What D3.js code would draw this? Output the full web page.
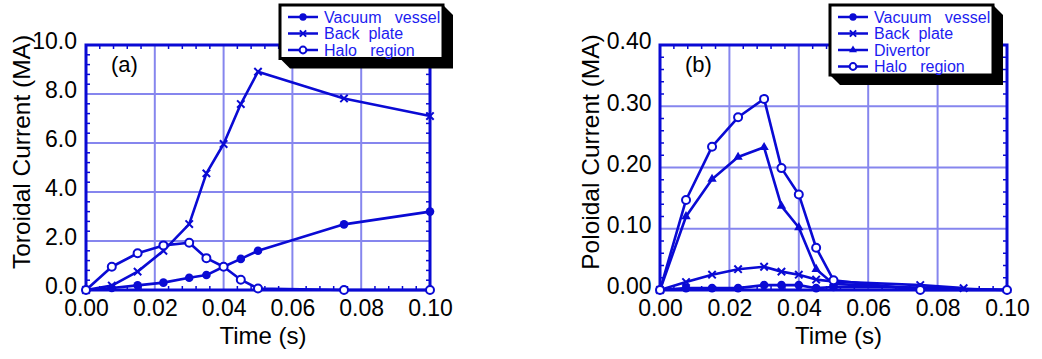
<!DOCTYPE html>
<html>
<head>
<meta charset="utf-8">
<script src="https://cdn.jsdelivr.net/npm/d3@7"></script>
<style>
  body { margin: 0; background: #fff; }
  svg { display: block; font-family: "Liberation Sans", Arial, sans-serif; }
</style>
</head>
<body>
<svg id="chart" width="1042" height="359"></svg>
<script>
// time samples (s)
const timeSteps = [0, 0.0075, 0.015, 0.0225, 0.03, 0.035, 0.04, 0.045, 0.05, 0.075, 0.1];
const backPlateTimeB = [0, 0.0075, 0.015, 0.0225, 0.03, 0.035, 0.04, 0.045, 0.05, 0.075, 0.0875];

// (a) toroidal current (MA)
const vesselA = [0, 0.08, 0.19, 0.3, 0.5, 0.61, 0.95, 1.27, 1.6, 2.68, 3.2];
const backPlateA = [0, 0.18, 0.75, 1.6, 2.69, 4.76, 5.96, 7.59, 8.91, 7.82, 7.1];
const haloA = [0, 0.95, 1.5, 1.82, 1.93, 1.3, 0.95, 0.42, 0.06, 0, 0];

// (b) poloidal current (MA)
const vesselB = [0, 0.003, 0.003, 0.003, 0.008, 0.008, 0.008, 0.003, 0.005, 0.004, 0];
const backPlateB = [0, 0.013, 0.025, 0.034, 0.038, 0.03, 0.025, 0.017, 0.014, 0.008, 0.003];
const divertorB = [0, 0.12, 0.181, 0.217, 0.233, 0.137, 0.102, 0.034, 0.01, 0.003, 0];
const haloB = [0, 0.147, 0.234, 0.282, 0.312, 0.199, 0.156, 0.069, 0.016, 0, 0];

const xTicks = [0, 0.02, 0.04, 0.06, 0.08, 0.1];
const yTicksA = [0, 2, 4, 6, 8, 10];
const yTicksB = [0, 0.1, 0.2, 0.3, 0.4];

const legendNames = {
  vessel: "Vacuum   vessel",
  back: "Back  plate",
  divertor: "Divertor",
  halo: "Halo   region"
};

const BLUE = "#0a0ad4";
const GRID = "#8686ee";
const svg = d3.select("#chart");

function drawMarker(g, kind, x, y, sz) {
  sz = sz || 1;
  if (kind == "vessel") {
    g.append("circle").attr("cx", x).attr("cy", y).attr("r", 4.3 * sz).attr("fill", BLUE);
  } else if (kind == "halo") {
    g.append("circle").attr("cx", x).attr("cy", y).attr("r", 4 * sz)
      .attr("fill", "#fff").attr("stroke", BLUE).attr("stroke-width", 2);
  } else if (kind == "divertor") {
    g.append("path").attr("d", d3.symbol(d3.symbolTriangle, 38 * sz * sz)())
      .attr("transform", "translate(" + x + "," + y + ")").attr("fill", BLUE);
  } else {
    const s = 3.7 * sz;
    g.append("path")
      .attr("d", `M${x - s},${y - s}L${x + s},${y + s}M${x - s},${y + s}L${x + s},${y - s}`)
      .attr("stroke", BLUE).attr("stroke-width", 2);
  }
}

function drawPanel(p) {
  const x = d3.scaleLinear().domain([0, 0.1]).range([p.left, p.right]);
  const y = d3.scaleLinear().domain([0, p.yMax]).range([290, 45]);
  const g = svg.append("g");

  // grid
  g.append("g").selectAll("line").data(xTicks.slice(1, -1)).enter().append("line")
    .attr("x1", d => x(d)).attr("x2", d => x(d)).attr("y1", y(p.yMax)).attr("y2", y(0))
    .attr("stroke", GRID).attr("stroke-width", 2);
  g.append("g").selectAll("line").data(p.yTicks.slice(1, -1)).enter().append("line")
    .attr("x1", x(0)).attr("x2", x(0.1)).attr("y1", d => y(d)).attr("y2", d => y(d))
    .attr("stroke", GRID).attr("stroke-width", 2);

  // minor ticks, 5 per grid cell, pointing inward
  const xMinor = d3.range(0, 51).map(i => i * 0.002).filter((d, i) => i % 2 == 0 && i % 10 != 0);
  const yStep = p.yTicks[1] / 5;
  const yMinor = d3.range(1, Math.round(p.yMax / yStep)).map(i => i * yStep).filter((d, i) => (i + 1) % 5 != 0);
  const tk = g.append("g").attr("stroke", BLUE).attr("stroke-width", 1.5);
  xMinor.forEach(d => {
    tk.append("line").attr("x1", x(d)).attr("x2", x(d)).attr("y1", y(0)).attr("y2", y(0) - 4);
    tk.append("line").attr("x1", x(d)).attr("x2", x(d)).attr("y1", y(p.yMax)).attr("y2", y(p.yMax) + 4);
  });
  yMinor.forEach(d => {
    tk.append("line").attr("x1", x(0)).attr("x2", x(0) + 4).attr("y1", y(d)).attr("y2", y(d));
    tk.append("line").attr("x1", x(0.1)).attr("x2", x(0.1) - 4).attr("y1", y(d)).attr("y2", y(d));
  });

  // frame
  g.append("rect").attr("x", x(0)).attr("y", y(p.yMax))
    .attr("width", x(0.1) - x(0)).attr("height", y(0) - y(p.yMax))
    .attr("fill", "none").attr("stroke", BLUE).attr("stroke-width", 3);

  // tick labels
  const ax = g.append("g").attr("transform", "translate(0," + y(0) + ")")
    .call(d3.axisBottom(x).tickValues(xTicks).tickFormat(d3.format(".2f")).tickSize(0).tickPadding(10));
  const ay = g.append("g").attr("transform", "translate(" + x(0) + ",0)")
    .call(d3.axisLeft(y).tickValues(p.yTicks).tickFormat(d3.format(p.yFmt)).tickSize(0).tickPadding(p.yPad));
  [ax, ay].forEach(a => {
    a.select(".domain").remove();
    a.selectAll("text").attr("font-size", 23).attr("fill", "#000")
      .attr("font-family", '"Liberation Sans", Arial, sans-serif');
  });
  ay.selectAll("text").attr("dy", "0.17em");

  // axis titles
  g.append("text").attr("x", (x(0) + x(0.1)) / 2 + 5).attr("y", 344)
    .attr("text-anchor", "middle").attr("font-size", 24).text("Time (s)");
  g.append("text").attr("transform", "translate(" + p.titleX + ",152) rotate(-90)")
    .attr("text-anchor", "middle").attr("font-size", 24.5).text(p.yTitle);
  g.append("text").attr("x", x(0) + 25).attr("y", 72).attr("font-size", 22).text(p.tag);

  // series
  const line = d3.line().x(d => x(d[0])).y(d => y(d[1]));
  p.series.forEach(s => {
    const pts = s.t.map((t, i) => [t, s.v[i]]);
    g.append("path").datum(pts).attr("d", line)
      .attr("fill", "none").attr("stroke", BLUE).attr("stroke-width", 2.6).attr("stroke-linejoin", "round");
    const mg = g.append("g");
    pts.forEach(d => drawMarker(mg, s.kind, x(d[0]), y(d[1])));
  });

  // legend
  const lx = p.legend[0], ly = p.legend[1], lw = 163, lh = 16.5 * p.series.length + 4;
  const lg = svg.append("g");
  lg.append("polygon")
    .attr("points", [[lx + lw, ly], [lx + lw + 10, ly + 10], [lx + lw + 10, ly + lh + 10],
                     [lx + 10, ly + lh + 10], [lx, ly + lh]].map(d => d.join(",")).join(" "))
    .attr("fill", "#000");
  lg.append("rect").attr("x", lx).attr("y", ly).attr("width", lw).attr("height", lh)
    .attr("fill", "#fff").attr("stroke", "#000").attr("stroke-width", 3);
  p.series.forEach((s, i) => {
    const ry = ly + 12 + i * 16.5;
    lg.append("line").attr("x1", lx + 8).attr("x2", lx + 38).attr("y1", ry).attr("y2", ry)
      .attr("stroke", BLUE).attr("stroke-width", 2.5);
    drawMarker(lg, s.kind, lx + 23, ry, 0.85);
    lg.append("text").attr("x", lx + 44).attr("y", ry + 5.5).attr("font-size", 16)
      .attr("fill", "#1c1cf0").style("white-space", "pre").text(legendNames[s.kind]);
  });
}

drawPanel({
  left: 86, right: 430, yMax: 10, yTicks: yTicksA, yFmt: ".1f", yPad: 9,
  yTitle: "Toroidal Current (MA)", titleX: 30, tag: "(a)", legend: [280, 5],
  series: [
    { kind: "vessel", t: timeSteps, v: vesselA },
    { kind: "back", t: timeSteps, v: backPlateA },
    { kind: "halo", t: timeSteps, v: haloA }
  ]
});

drawPanel({
  left: 660, right: 1007, yMax: 0.4, yTicks: yTicksB, yFmt: ".2f", yPad: 8.5,
  yTitle: "Poloidal Current (MA)", titleX: 599, tag: "(b)", legend: [830, 5],
  series: [
    { kind: "vessel", t: timeSteps, v: vesselB },
    { kind: "back", t: backPlateTimeB, v: backPlateB },
    { kind: "divertor", t: timeSteps, v: divertorB },
    { kind: "halo", t: timeSteps, v: haloB }
  ]
});
</script>
</body>
</html>
